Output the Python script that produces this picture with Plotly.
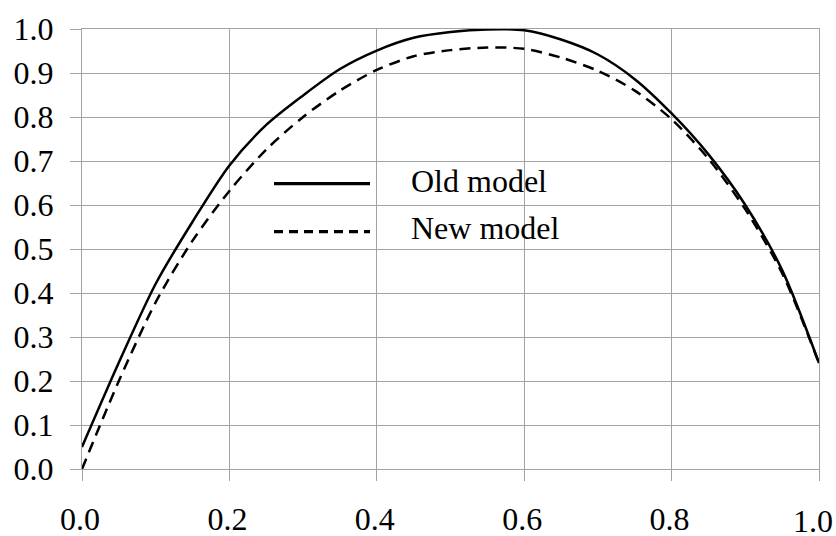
import plotly.graph_objects as go

x_vals = [0.0, 0.05, 0.1, 0.15, 0.2, 0.25, 0.3, 0.35, 0.4, 0.45, 0.5,
          0.55, 0.6, 0.65, 0.7, 0.75, 0.8, 0.85, 0.9, 0.95, 1.0]
old_model = [0.05, 0.242, 0.421, 0.562, 0.69, 0.782, 0.849, 0.909, 0.951, 0.980, 0.993,
             0.999, 0.997, 0.976, 0.942, 0.886, 0.808, 0.715, 0.600, 0.452, 0.241]
new_model = [0.0, 0.2, 0.379, 0.519, 0.632, 0.726, 0.800, 0.860, 0.907, 0.938, 0.952,
             0.958, 0.955, 0.935, 0.905, 0.860, 0.795, 0.705, 0.590, 0.445, 0.240]
series_names = ["Old model", "New model"]
tick_vals = [0.0, 0.1, 0.2, 0.3, 0.4, 0.5, 0.6, 0.7, 0.8, 0.9, 1.0]
x_ticks = [0.0, 0.2, 0.4, 0.6, 0.8, 1.0]
x_tick_text = ["0.0", "0.2", "0.4", "0.6", "0.8", "1.0"]

FONT = "Liberation Serif"
FS = 32
GRID = "#a3a3a3"

fig = go.Figure()
fig.add_trace(go.Scatter(x=x_vals, y=old_model, mode="lines", name=series_names[0],
                         line=dict(color="black", width=2.5, shape="spline", smoothing=0.8)))
fig.add_trace(go.Scatter(x=x_vals, y=new_model, mode="lines", name=series_names[1],
                         line=dict(color="black", width=2.5, dash="11px,7px",
                                   shape="spline", smoothing=0.8)))

W, H = 737.0, 440.0
def px(xp):
    return (xp - 82) / W
def py(yp):
    return (469.3 - yp) / H

fig.add_shape(type="line", xref="paper", yref="paper", x0=px(274), x1=px(370),
              y0=py(184), y1=py(184), line=dict(color="black", width=3.3))
fig.add_shape(type="line", xref="paper", yref="paper", x0=px(274), x1=px(370),
              y0=py(232), y1=py(232), line=dict(color="black", width=3.3, dash="9px,6px"))
fig.add_annotation(xref="paper", yref="paper", x=px(409), y=py(181), text=series_names[0],
                   showarrow=False, xanchor="left", yanchor="middle",
                   font=dict(family=FONT, size=FS, color="black"))
fig.add_annotation(xref="paper", yref="paper", x=px(409), y=py(228), text=series_names[1],
                   showarrow=False, xanchor="left", yanchor="middle",
                   font=dict(family=FONT, size=FS, color="black"))

# last x tick label sits slightly left of its tick (as in the reference) so it stays inside the page
fig.add_annotation(xref="x", yref="paper", x=x_ticks[-1], y=py(521), text=x_tick_text[-1],
                   showarrow=False, xanchor="center", yanchor="middle", xshift=-6,
                   font=dict(family=FONT, size=FS, color="black"))
axis_text = x_tick_text[:-1] + [""]

fig.update_layout(
    width=836, height=536,
    margin=dict(l=82, r=17, t=29, b=67, autoexpand=False),
    paper_bgcolor="white", plot_bgcolor="white",
    showlegend=False,
    font=dict(family=FONT, size=FS, color="black"),
)
fig.update_xaxes(range=[0, 1], tickvals=x_ticks, ticktext=axis_text,
                 showgrid=True, gridcolor=GRID, gridwidth=1,
                 showline=True, linecolor=GRID, linewidth=1, mirror=True,
                 ticks="outside", ticklen=11, tickcolor=GRID, tickwidth=1,
                 ticklabelstandoff=11, ticklabelshift=-2, ticklabeloverflow="allow",
                 zeroline=False, automargin=False,
                 tickfont=dict(family=FONT, size=FS, color="black"))
fig.update_yaxes(range=[0, 1], tickvals=tick_vals, ticktext=[f"{v:.1f}" for v in tick_vals],
                 showgrid=True, gridcolor=GRID, gridwidth=1,
                 showline=True, linecolor=GRID, linewidth=1, mirror=True,
                 ticks="outside", ticklen=11, tickcolor=GRID, tickwidth=1,
                 ticklabelstandoff=10, ticklabeloverflow="allow",
                 zeroline=False, automargin=False,
                 tickfont=dict(family=FONT, size=FS, color="black"))

fig.write_html("out.html", config={"displayModeBar": False},
               post_script="document.body.style.margin='0';document.body.style.overflow='hidden';")
